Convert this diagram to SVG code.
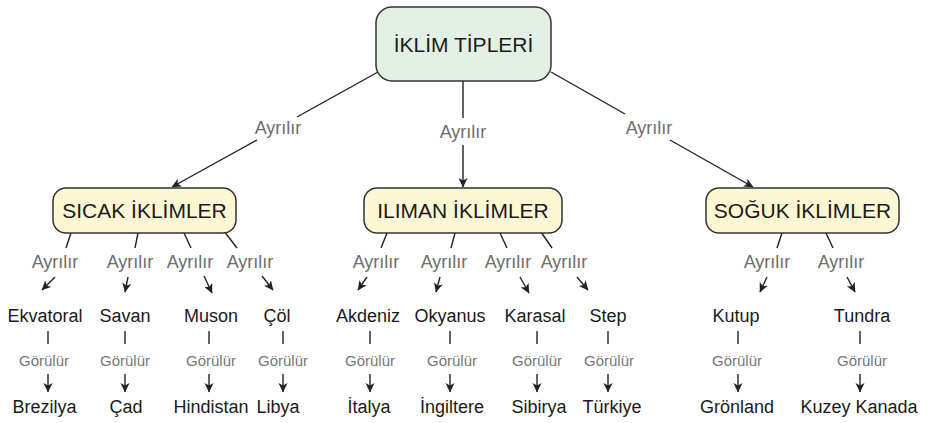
<svg xmlns="http://www.w3.org/2000/svg" width="928" height="423" viewBox="0 0 928 423">
<style>
.box{stroke:#333;stroke-width:1.5}
.main{fill:#e3f1e4}
.sub{fill:#fdf7d3}
.bt{font-family:"Liberation Sans",Arial,sans-serif;font-size:21px;fill:#1a1a1a;text-anchor:middle}
.lf{font-family:"Liberation Sans",Arial,sans-serif;font-size:18px;fill:#1a1a1a;text-anchor:middle}
.lb{font-family:"Liberation Sans",Arial,sans-serif;font-size:18px;fill:#6e6e6e;text-anchor:middle}
.gl{font-family:"Liberation Sans",Arial,sans-serif;font-size:15px;fill:#777;text-anchor:middle}
.c line{stroke:#222;stroke-width:1.4;fill:none}
.c line.a{marker-end:url(#ah)}
</style>
<defs>
<marker id="ah" markerUnits="userSpaceOnUse" markerWidth="12" markerHeight="10" refX="9" refY="4.5" orient="auto">
<path d="M0,0 L9.5,4.5 L0,9 L2.5,4.5 Z" fill="#222"/>
</marker>
</defs>
<rect width="928" height="423" fill="#fff"/>
<g id="connectors" class="c">
<line x1="378" y1="72" x2="297" y2="117"/>
<line class="a" x1="257" y1="140" x2="172" y2="187"/>
<line x1="463" y1="81" x2="463" y2="118"/>
<line class="a" x1="463" y1="145" x2="463" y2="187"/>
<line x1="551" y1="72" x2="625" y2="114"/>
<line class="a" x1="670" y1="140" x2="753" y2="187"/>
<line x1="71" y1="233" x2="66" y2="248"/><line class="a" x1="55" y1="277" x2="42" y2="290"/>
<line x1="138" y1="233" x2="135" y2="248"/><line class="a" x1="128" y1="277" x2="125" y2="292"/>
<line x1="184" y1="233" x2="191" y2="248"/><line class="a" x1="204" y1="276" x2="212" y2="293"/>
<line x1="224" y1="231" x2="237" y2="248"/><line class="a" x1="262" y1="276" x2="273" y2="290"/>
<line x1="387" y1="233" x2="381" y2="248"/><line class="a" x1="367" y1="277" x2="358" y2="290"/>
<line x1="455" y1="233" x2="451" y2="248"/><line class="a" x1="440" y1="277" x2="436" y2="292"/>
<line x1="500" y1="233" x2="507" y2="248"/><line class="a" x1="520" y1="277" x2="529" y2="293"/>
<line x1="541" y1="232" x2="552" y2="248"/><line class="a" x1="577" y1="277" x2="588" y2="290"/>
<line x1="782" y1="233" x2="777" y2="248"/><line class="a" x1="767" y1="277" x2="760" y2="292"/>
<line x1="826" y1="233" x2="833" y2="248"/><line class="a" x1="847" y1="277" x2="855" y2="292"/>
<line x1="48" y1="331" x2="48" y2="344"/><line class="a" x1="48" y1="374" x2="48" y2="392"/>
<line x1="125" y1="331" x2="125" y2="344"/><line class="a" x1="125" y1="374" x2="125" y2="392"/>
<line x1="209" y1="331" x2="209" y2="344"/><line class="a" x1="209" y1="374" x2="209" y2="392"/>
<line x1="283" y1="331" x2="283" y2="344"/><line class="a" x1="283" y1="374" x2="283" y2="392"/>
<line x1="370" y1="331" x2="370" y2="344"/><line class="a" x1="370" y1="374" x2="370" y2="392"/>
<line x1="450" y1="331" x2="450" y2="344"/><line class="a" x1="450" y1="374" x2="450" y2="392"/>
<line x1="537" y1="331" x2="537" y2="344"/><line class="a" x1="537" y1="374" x2="537" y2="392"/>
<line x1="608" y1="331" x2="608" y2="344"/><line class="a" x1="608" y1="374" x2="608" y2="392"/>
<line x1="738" y1="331" x2="738" y2="344"/><line class="a" x1="738" y1="374" x2="738" y2="392"/>
<line x1="860" y1="331" x2="860" y2="344"/><line class="a" x1="860" y1="374" x2="860" y2="392"/>
</g>
<g id="labels">
<text class="lb" x="278" y="134">Ayrılır</text>
<text class="lb" x="463" y="138">Ayrılır</text>
<text class="lb" x="649" y="134">Ayrılır</text>
<text class="lb" x="55" y="268">Ayrılır</text>
<text class="lb" x="130" y="268">Ayrılır</text>
<text class="lb" x="190" y="268">Ayrılır</text>
<text class="lb" x="250" y="268">Ayrılır</text>
<text class="lb" x="376" y="268">Ayrılır</text>
<text class="lb" x="444" y="268">Ayrılır</text>
<text class="lb" x="508" y="268">Ayrılır</text>
<text class="lb" x="564" y="268">Ayrılır</text>
<text class="lb" x="767" y="268">Ayrılır</text>
<text class="lb" x="841" y="268">Ayrılır</text>
<text class="gl" x="44" y="366">Görülür</text>
<text class="gl" x="125" y="366">Görülür</text>
<text class="gl" x="211" y="366">Görülür</text>
<text class="gl" x="283" y="366">Görülür</text>
<text class="gl" x="370" y="366">Görülür</text>
<text class="gl" x="452" y="366">Görülür</text>
<text class="gl" x="537" y="366">Görülür</text>
<text class="gl" x="609" y="366">Görülür</text>
<text class="gl" x="737" y="366">Görülür</text>
<text class="gl" x="862" y="366">Görülür</text>
</g>
<g id="n-iklim-tipleri"><rect class="box main" x="376" y="7" width="175" height="74" rx="16"/><text class="bt" x="463.5" y="52">İKLİM TİPLERİ</text></g>
<g id="n-sicak"><rect class="box sub" x="53" y="188" width="183" height="45" rx="13"/><text class="bt" x="144.5" y="218">SICAK İKLİMLER</text></g>
<g id="n-iliman"><rect class="box sub" x="364" y="188" width="198" height="45" rx="13"/><text class="bt" x="463" y="218">ILIMAN İKLİMLER</text></g>
<g id="n-soguk"><rect class="box sub" x="706" y="188" width="193" height="45" rx="13"/><text class="bt" x="802.5" y="218">SOĞUK İKLİMLER</text></g>
<g id="n-ekvatoral"><text class="lf" x="45" y="322">Ekvatoral</text></g>
<g id="n-savan"><text class="lf" x="125" y="322">Savan</text></g>
<g id="n-muson"><text class="lf" x="211" y="322">Muson</text></g>
<g id="n-col"><text class="lf" x="277" y="322">Çöl</text></g>
<g id="n-akdeniz"><text class="lf" x="368" y="322">Akdeniz</text></g>
<g id="n-okyanus"><text class="lf" x="450" y="322">Okyanus</text></g>
<g id="n-karasal"><text class="lf" x="535" y="322">Karasal</text></g>
<g id="n-step"><text class="lf" x="608" y="322">Step</text></g>
<g id="n-kutup"><text class="lf" x="736" y="322">Kutup</text></g>
<g id="n-tundra"><text class="lf" x="862" y="322">Tundra</text></g>
<g id="n-brezilya"><text class="lf" x="44.5" y="413">Brezilya</text></g>
<g id="n-cad"><text class="lf" x="126" y="413">Çad</text></g>
<g id="n-hindistan"><text class="lf" x="211" y="413">Hindistan</text></g>
<g id="n-libya"><text class="lf" x="278" y="413">Libya</text></g>
<g id="n-italya"><text class="lf" x="369" y="413">İtalya</text></g>
<g id="n-ingiltere"><text class="lf" x="452" y="413">İngiltere</text></g>
<g id="n-sibirya"><text class="lf" x="539" y="413">Sibirya</text></g>
<g id="n-turkiye"><text class="lf" x="612" y="413">Türkiye</text></g>
<g id="n-gronland"><text class="lf" x="737" y="413">Grönland</text></g>
<g id="n-kuzey-kanada"><text class="lf" x="859" y="413">Kuzey Kanada</text></g>
</svg>
